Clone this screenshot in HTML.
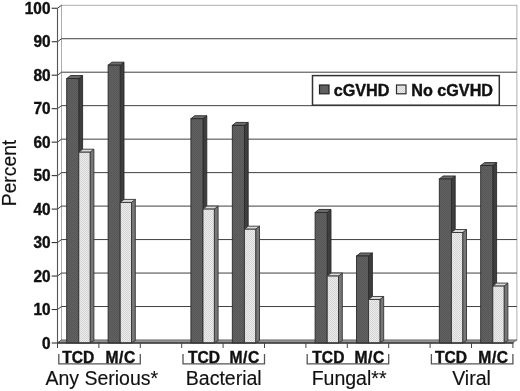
<!DOCTYPE html>
<html><head><meta charset="utf-8"><title>chart</title>
<style>
html,body{margin:0;padding:0;background:#fff;}
body{width:520px;height:391px;position:relative;overflow:hidden;font-family:"Liberation Sans",sans-serif;color:#111;}
#txt{position:absolute;left:0;top:0;width:520px;height:391px;will-change:transform;}
.yl,.xl,.lg{-webkit-text-stroke:0.4px #111;}
.gl,.pc{-webkit-text-stroke:0.15px #111;}
.yl{position:absolute;left:0;width:50.5px;text-align:right;font-weight:bold;font-size:15.4px;line-height:18px;height:18px;transform:scaleY(1.08);transform-origin:50% 50%;}
.xl{position:absolute;top:348.6px;text-align:center;font-weight:bold;font-size:15.6px;line-height:18px;height:18px;white-space:nowrap;}
.gl{position:absolute;top:366.8px;text-align:center;font-size:19.5px;line-height:22px;height:22px;white-space:nowrap;}
.lg{position:absolute;top:80.5px;font-weight:bold;font-size:16.2px;line-height:19px;white-space:nowrap;}
.pc{position:absolute;left:-25.5px;top:162px;width:70px;height:22px;line-height:22px;font-size:19.3px;text-align:center;transform:rotate(-90deg);transform-origin:center center;white-space:nowrap;}
</style></head><body>
<svg width="520" height="391" viewBox="0 0 520 391" style="position:absolute;left:0;top:0">
<defs>
<pattern id="pl" width="2" height="2" patternUnits="userSpaceOnUse"><rect width="2" height="2" fill="#ececec"/><rect width="1" height="1" fill="#d4d4d4"/><rect x="1" y="1" width="1" height="1" fill="#d4d4d4"/></pattern>
<pattern id="pd" width="2" height="2" patternUnits="userSpaceOnUse"><rect width="2" height="2" fill="#626262"/><rect width="1" height="1" fill="#565656"/><rect x="1" y="1" width="1" height="1" fill="#565656"/></pattern>
</defs>
<rect width="520" height="391" fill="#fff"/>
<rect x="61.50" y="5.25" width="455.40" height="334.75" fill="#fff" stroke="#9a9a9a" stroke-width="0.8"/>
<line x1="61.50" y1="306.52" x2="516.90" y2="306.52" stroke="#404040" stroke-width="1"/>
<line x1="61.50" y1="273.05" x2="516.90" y2="273.05" stroke="#404040" stroke-width="1"/>
<line x1="61.50" y1="239.57" x2="516.90" y2="239.57" stroke="#404040" stroke-width="1"/>
<line x1="61.50" y1="206.10" x2="516.90" y2="206.10" stroke="#404040" stroke-width="1"/>
<line x1="61.50" y1="172.62" x2="516.90" y2="172.62" stroke="#404040" stroke-width="1"/>
<line x1="61.50" y1="139.15" x2="516.90" y2="139.15" stroke="#404040" stroke-width="1"/>
<line x1="61.50" y1="105.67" x2="516.90" y2="105.67" stroke="#404040" stroke-width="1"/>
<line x1="61.50" y1="72.20" x2="516.90" y2="72.20" stroke="#404040" stroke-width="1"/>
<line x1="61.50" y1="38.72" x2="516.90" y2="38.72" stroke="#404040" stroke-width="1"/>
<line x1="57.50" y1="343.00" x2="61.50" y2="340.00" stroke="#3a3a3a" stroke-width="1"/>
<line x1="51.70" y1="343.00" x2="57.50" y2="343.00" stroke="#333" stroke-width="1.1"/>
<line x1="57.50" y1="309.52" x2="61.50" y2="306.52" stroke="#3a3a3a" stroke-width="1"/>
<line x1="51.70" y1="309.52" x2="57.50" y2="309.52" stroke="#333" stroke-width="1.1"/>
<line x1="57.50" y1="276.05" x2="61.50" y2="273.05" stroke="#3a3a3a" stroke-width="1"/>
<line x1="51.70" y1="276.05" x2="57.50" y2="276.05" stroke="#333" stroke-width="1.1"/>
<line x1="57.50" y1="242.57" x2="61.50" y2="239.57" stroke="#3a3a3a" stroke-width="1"/>
<line x1="51.70" y1="242.57" x2="57.50" y2="242.57" stroke="#333" stroke-width="1.1"/>
<line x1="57.50" y1="209.10" x2="61.50" y2="206.10" stroke="#3a3a3a" stroke-width="1"/>
<line x1="51.70" y1="209.10" x2="57.50" y2="209.10" stroke="#333" stroke-width="1.1"/>
<line x1="57.50" y1="175.62" x2="61.50" y2="172.62" stroke="#3a3a3a" stroke-width="1"/>
<line x1="51.70" y1="175.62" x2="57.50" y2="175.62" stroke="#333" stroke-width="1.1"/>
<line x1="57.50" y1="142.15" x2="61.50" y2="139.15" stroke="#3a3a3a" stroke-width="1"/>
<line x1="51.70" y1="142.15" x2="57.50" y2="142.15" stroke="#333" stroke-width="1.1"/>
<line x1="57.50" y1="108.67" x2="61.50" y2="105.67" stroke="#3a3a3a" stroke-width="1"/>
<line x1="51.70" y1="108.67" x2="57.50" y2="108.67" stroke="#333" stroke-width="1.1"/>
<line x1="57.50" y1="75.20" x2="61.50" y2="72.20" stroke="#3a3a3a" stroke-width="1"/>
<line x1="51.70" y1="75.20" x2="57.50" y2="75.20" stroke="#333" stroke-width="1.1"/>
<line x1="57.50" y1="41.72" x2="61.50" y2="38.72" stroke="#3a3a3a" stroke-width="1"/>
<line x1="51.70" y1="41.72" x2="57.50" y2="41.72" stroke="#333" stroke-width="1.1"/>
<line x1="57.50" y1="8.25" x2="61.50" y2="5.25" stroke="#3a3a3a" stroke-width="1"/>
<line x1="51.70" y1="8.25" x2="57.50" y2="8.25" stroke="#333" stroke-width="1.1"/>
<polygon points="57.50,343.00 61.50,340.00 516.90,340.00 512.90,343.00" fill="#949494" stroke="#555" stroke-width="0.6"/>
<line x1="57.50" y1="8.25" x2="57.50" y2="343.00" stroke="#555" stroke-width="1.1"/>
<polygon points="78.80,78.55 82.60,75.55 82.60,340.60 78.80,343.00" fill="#3e3e3e" stroke="#2a2a2a" stroke-width="0.9" stroke-linejoin="round"/>
<polygon points="66.70,78.55 70.50,75.55 82.60,75.55 78.80,78.55" fill="#6c6c6c" stroke="#2a2a2a" stroke-width="0.9" stroke-linejoin="round"/>
<rect x="66.70" y="78.55" width="12.10" height="264.45" fill="url(#pd)" stroke="#2a2a2a" stroke-width="0.9"/>
<polygon points="90.10,152.19 93.90,149.19 93.90,340.60 90.10,343.00" fill="#777" stroke="#333" stroke-width="0.9" stroke-linejoin="round"/>
<polygon points="78.80,152.19 82.60,149.19 93.90,149.19 90.10,152.19" fill="#dcdcdc" stroke="#333" stroke-width="0.9" stroke-linejoin="round"/>
<rect x="78.80" y="152.19" width="11.30" height="190.81" fill="url(#pl)" stroke="#333" stroke-width="0.9"/>
<polygon points="120.20,65.16 124.00,62.16 124.00,340.60 120.20,343.00" fill="#3e3e3e" stroke="#2a2a2a" stroke-width="0.9" stroke-linejoin="round"/>
<polygon points="108.10,65.16 111.90,62.16 124.00,62.16 120.20,65.16" fill="#6c6c6c" stroke="#2a2a2a" stroke-width="0.9" stroke-linejoin="round"/>
<rect x="108.10" y="65.16" width="12.10" height="277.84" fill="url(#pd)" stroke="#2a2a2a" stroke-width="0.9"/>
<polygon points="131.50,202.41 135.30,199.41 135.30,340.60 131.50,343.00" fill="#777" stroke="#333" stroke-width="0.9" stroke-linejoin="round"/>
<polygon points="120.20,202.41 124.00,199.41 135.30,199.41 131.50,202.41" fill="#dcdcdc" stroke="#333" stroke-width="0.9" stroke-linejoin="round"/>
<rect x="120.20" y="202.41" width="11.30" height="140.59" fill="url(#pl)" stroke="#333" stroke-width="0.9"/>
<polygon points="203.00,118.72 206.80,115.72 206.80,340.60 203.00,343.00" fill="#3e3e3e" stroke="#2a2a2a" stroke-width="0.9" stroke-linejoin="round"/>
<polygon points="190.90,118.72 194.70,115.72 206.80,115.72 203.00,118.72" fill="#6c6c6c" stroke="#2a2a2a" stroke-width="0.9" stroke-linejoin="round"/>
<rect x="190.90" y="118.72" width="12.10" height="224.28" fill="url(#pd)" stroke="#2a2a2a" stroke-width="0.9"/>
<polygon points="214.30,209.10 218.10,206.10 218.10,340.60 214.30,343.00" fill="#777" stroke="#333" stroke-width="0.9" stroke-linejoin="round"/>
<polygon points="203.00,209.10 206.80,206.10 218.10,206.10 214.30,209.10" fill="#dcdcdc" stroke="#333" stroke-width="0.9" stroke-linejoin="round"/>
<rect x="203.00" y="209.10" width="11.30" height="133.90" fill="url(#pl)" stroke="#333" stroke-width="0.9"/>
<polygon points="244.40,125.41 248.20,122.41 248.20,340.60 244.40,343.00" fill="#3e3e3e" stroke="#2a2a2a" stroke-width="0.9" stroke-linejoin="round"/>
<polygon points="232.30,125.41 236.10,122.41 248.20,122.41 244.40,125.41" fill="#6c6c6c" stroke="#2a2a2a" stroke-width="0.9" stroke-linejoin="round"/>
<rect x="232.30" y="125.41" width="12.10" height="217.59" fill="url(#pd)" stroke="#2a2a2a" stroke-width="0.9"/>
<polygon points="255.70,229.19 259.50,226.19 259.50,340.60 255.70,343.00" fill="#777" stroke="#333" stroke-width="0.9" stroke-linejoin="round"/>
<polygon points="244.40,229.19 248.20,226.19 259.50,226.19 255.70,229.19" fill="#dcdcdc" stroke="#333" stroke-width="0.9" stroke-linejoin="round"/>
<rect x="244.40" y="229.19" width="11.30" height="113.81" fill="url(#pl)" stroke="#333" stroke-width="0.9"/>
<polygon points="327.20,212.45 331.00,209.45 331.00,340.60 327.20,343.00" fill="#3e3e3e" stroke="#2a2a2a" stroke-width="0.9" stroke-linejoin="round"/>
<polygon points="315.10,212.45 318.90,209.45 331.00,209.45 327.20,212.45" fill="#6c6c6c" stroke="#2a2a2a" stroke-width="0.9" stroke-linejoin="round"/>
<rect x="315.10" y="212.45" width="12.10" height="130.55" fill="url(#pd)" stroke="#2a2a2a" stroke-width="0.9"/>
<polygon points="338.50,276.05 342.30,273.05 342.30,340.60 338.50,343.00" fill="#777" stroke="#333" stroke-width="0.9" stroke-linejoin="round"/>
<polygon points="327.20,276.05 331.00,273.05 342.30,273.05 338.50,276.05" fill="#dcdcdc" stroke="#333" stroke-width="0.9" stroke-linejoin="round"/>
<rect x="327.20" y="276.05" width="11.30" height="66.95" fill="url(#pl)" stroke="#333" stroke-width="0.9"/>
<polygon points="368.60,255.97 372.40,252.97 372.40,340.60 368.60,343.00" fill="#3e3e3e" stroke="#2a2a2a" stroke-width="0.9" stroke-linejoin="round"/>
<polygon points="356.50,255.97 360.30,252.97 372.40,252.97 368.60,255.97" fill="#6c6c6c" stroke="#2a2a2a" stroke-width="0.9" stroke-linejoin="round"/>
<rect x="356.50" y="255.97" width="12.10" height="87.03" fill="url(#pd)" stroke="#2a2a2a" stroke-width="0.9"/>
<polygon points="379.90,299.48 383.70,296.48 383.70,340.60 379.90,343.00" fill="#777" stroke="#333" stroke-width="0.9" stroke-linejoin="round"/>
<polygon points="368.60,299.48 372.40,296.48 383.70,296.48 379.90,299.48" fill="#dcdcdc" stroke="#333" stroke-width="0.9" stroke-linejoin="round"/>
<rect x="368.60" y="299.48" width="11.30" height="43.52" fill="url(#pl)" stroke="#333" stroke-width="0.9"/>
<polygon points="451.40,178.97 455.20,175.97 455.20,340.60 451.40,343.00" fill="#3e3e3e" stroke="#2a2a2a" stroke-width="0.9" stroke-linejoin="round"/>
<polygon points="439.30,178.97 443.10,175.97 455.20,175.97 451.40,178.97" fill="#6c6c6c" stroke="#2a2a2a" stroke-width="0.9" stroke-linejoin="round"/>
<rect x="439.30" y="178.97" width="12.10" height="164.03" fill="url(#pd)" stroke="#2a2a2a" stroke-width="0.9"/>
<polygon points="462.70,232.53 466.50,229.53 466.50,340.60 462.70,343.00" fill="#777" stroke="#333" stroke-width="0.9" stroke-linejoin="round"/>
<polygon points="451.40,232.53 455.20,229.53 466.50,229.53 462.70,232.53" fill="#dcdcdc" stroke="#333" stroke-width="0.9" stroke-linejoin="round"/>
<rect x="451.40" y="232.53" width="11.30" height="110.47" fill="url(#pl)" stroke="#333" stroke-width="0.9"/>
<polygon points="492.80,165.58 496.60,162.58 496.60,340.60 492.80,343.00" fill="#3e3e3e" stroke="#2a2a2a" stroke-width="0.9" stroke-linejoin="round"/>
<polygon points="480.70,165.58 484.50,162.58 496.60,162.58 492.80,165.58" fill="#6c6c6c" stroke="#2a2a2a" stroke-width="0.9" stroke-linejoin="round"/>
<rect x="480.70" y="165.58" width="12.10" height="177.42" fill="url(#pd)" stroke="#2a2a2a" stroke-width="0.9"/>
<polygon points="504.10,286.09 507.90,283.09 507.90,340.60 504.10,343.00" fill="#777" stroke="#333" stroke-width="0.9" stroke-linejoin="round"/>
<polygon points="492.80,286.09 496.60,283.09 507.90,283.09 504.10,286.09" fill="#dcdcdc" stroke="#333" stroke-width="0.9" stroke-linejoin="round"/>
<rect x="492.80" y="286.09" width="11.30" height="56.91" fill="url(#pl)" stroke="#333" stroke-width="0.9"/>
<line x1="57.00" y1="343.00" x2="513.40" y2="343.00" stroke="#3a3a3a" stroke-width="1.6"/>
<line x1="57.50" y1="343.00" x2="57.50" y2="348.00" stroke="#444" stroke-width="1"/>
<line x1="98.90" y1="343.00" x2="98.90" y2="348.00" stroke="#444" stroke-width="1"/>
<line x1="140.30" y1="343.00" x2="140.30" y2="348.00" stroke="#444" stroke-width="1"/>
<line x1="181.70" y1="343.00" x2="181.70" y2="348.00" stroke="#444" stroke-width="1"/>
<line x1="223.10" y1="343.00" x2="223.10" y2="348.00" stroke="#444" stroke-width="1"/>
<line x1="264.50" y1="343.00" x2="264.50" y2="348.00" stroke="#444" stroke-width="1"/>
<line x1="305.90" y1="343.00" x2="305.90" y2="348.00" stroke="#444" stroke-width="1"/>
<line x1="347.30" y1="343.00" x2="347.30" y2="348.00" stroke="#444" stroke-width="1"/>
<line x1="388.70" y1="343.00" x2="388.70" y2="348.00" stroke="#444" stroke-width="1"/>
<line x1="430.10" y1="343.00" x2="430.10" y2="348.00" stroke="#444" stroke-width="1"/>
<line x1="471.50" y1="343.00" x2="471.50" y2="348.00" stroke="#444" stroke-width="1"/>
<line x1="512.90" y1="343.00" x2="512.90" y2="348.00" stroke="#444" stroke-width="1"/>
<polyline points="58.80,354 58.80,363.8 140.30,363.8 140.30,354" fill="none" stroke="#555" stroke-width="1.3"/>
<polyline points="183.00,354 183.00,363.8 264.50,363.8 264.50,354" fill="none" stroke="#555" stroke-width="1.3"/>
<polyline points="307.20,354 307.20,363.8 388.70,363.8 388.70,354" fill="none" stroke="#555" stroke-width="1.3"/>
<polyline points="431.40,354 431.40,363.8 512.90,363.8 512.90,354" fill="none" stroke="#555" stroke-width="1.3"/>
<rect x="312.5" y="75.6" width="186.8" height="29.6" fill="#fff" stroke="#333" stroke-width="1.5"/>
<rect x="319.5" y="85" width="9.5" height="8.8" fill="#606060" stroke="#222" stroke-width="1.2"/>
<rect x="396.5" y="85" width="9.5" height="8.8" fill="url(#pl)" stroke="#2a2a2a" stroke-width="1.2"/>
</svg>
<div id="txt">
<div class="yl" style="top:334.70px">0</div>
<div class="yl" style="top:301.22px">10</div>
<div class="yl" style="top:267.75px">20</div>
<div class="yl" style="top:234.27px">30</div>
<div class="yl" style="top:200.80px">40</div>
<div class="yl" style="top:167.32px">50</div>
<div class="yl" style="top:133.85px">60</div>
<div class="yl" style="top:100.37px">70</div>
<div class="yl" style="top:66.90px">80</div>
<div class="yl" style="top:33.42px">90</div>
<div class="yl" style="top:-0.05px">100</div>
<div class="xl" style="left:57.50px;width:41.40px;">TCD</div>
<div class="xl" style="left:99.90px;width:41.40px;letter-spacing:0.6px;">M/C</div>
<div class="gl" style="left:40.40px;width:122.80px;">Any Serious*</div>
<div class="xl" style="left:183.30px;width:41.40px;">TCD</div>
<div class="xl" style="left:223.90px;width:41.40px;letter-spacing:0.6px;">M/C</div>
<div class="gl" style="left:162.35px;width:122.80px;">Bacterial</div>
<div class="xl" style="left:307.70px;width:41.40px;">TCD</div>
<div class="xl" style="left:348.90px;width:41.40px;letter-spacing:0.6px;">M/C</div>
<div class="gl" style="left:287.70px;width:122.80px;">Fungal**</div>
<div class="xl" style="left:430.30px;width:41.40px;">TCD</div>
<div class="xl" style="left:472.80px;width:41.40px;letter-spacing:0.6px;">M/C</div>
<div class="gl" style="left:410.10px;width:122.80px;">Viral</div>
<div class="lg" style="left:333.7px;">cGVHD</div>
<div class="lg" style="left:411.2px;">No cGVHD</div>
<div class="pc">Percent</div>
</div>
</body></html>
